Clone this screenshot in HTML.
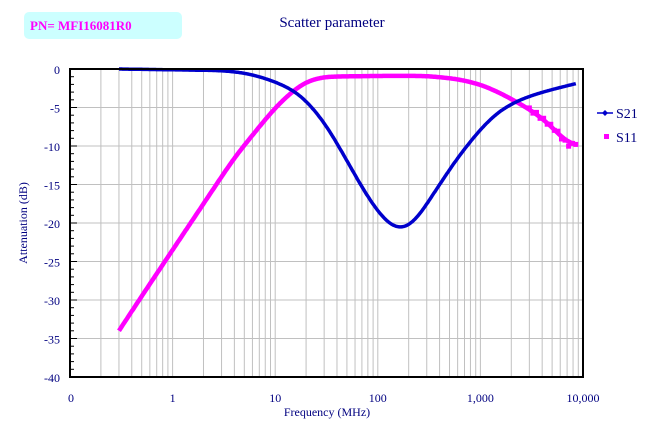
<!DOCTYPE html>
<html><head><meta charset="utf-8"><style>
html,body{margin:0;padding:0;background:#fff;width:666px;height:430px;overflow:hidden}
svg{display:block}
text{font-family:"Liberation Serif",serif}
</style></head><body>
<svg id="s" width="666" height="430" xmlns="http://www.w3.org/2000/svg">
<rect x="24" y="12" width="158" height="27" rx="5" fill="#ccffff"/>
<text x="30" y="30" font-size="13" font-weight="bold" fill="#ff00ff">PN= MFI16081R0</text>
<text x="332" y="27" font-size="15" text-anchor="middle" fill="#000080">Scatter parameter</text>
<g id="grid"></g>
<g id="data"></g>
<rect x="70" y="69" width="513" height="308" fill="none" stroke="#000" stroke-width="2"/>
<g id="ticks"></g>
<text transform="translate(27,223) rotate(-90)" font-size="12" text-anchor="middle" fill="#000080">Attenuation (dB)</text>
<text x="327" y="416" font-size="12" text-anchor="middle" fill="#000080">Frequency (MHz)</text>
<line x1="597" y1="113" x2="613" y2="113" stroke="#0000cc" stroke-width="1.5"/>
<path d="M605 110 L608 113 L605 116 L602 113Z" fill="#0000cc"/>
<text x="616" y="118" font-size="14" fill="#000080">S21</text>
<rect x="604" y="134" width="5" height="5" fill="#ff00ff"/>
<text x="616" y="142" font-size="14" fill="#000080">S11</text>
</svg>
<script>
var NS="http://www.w3.org/2000/svg";
function el(p,t,a,txt){var e=document.createElementNS(NS,t);for(var k in a)e.setAttribute(k,a[k]);if(txt!==undefined)e.textContent=txt;p.appendChild(e);return e;}
var X0=70,X1=583,Y0=69,Y1=377;
function fx(f){return X0+(Math.log10(f)+1)*(X1-X0)/5;}
function fy(d){return Y0+(-d)*(Y1-Y0)/40;}
var g=document.getElementById('grid'),t=document.getElementById('ticks'),d=document.getElementById('data');
for(var e=-1;e<4;e++)for(var m=1;m<10;m++){var x=fx(m*Math.pow(10,e));if(x>X0+1)el(g,'line',{x1:x,y1:Y0,x2:x,y2:Y1,stroke:'#c0c0c0','stroke-width':1});}
for(var v=-5;v>-40;v-=5)el(g,'line',{x1:X0,y1:fy(v),x2:X1,y2:fy(v),stroke:'#c0c0c0','stroke-width':1});
for(var v=0;v>=-40;v--){var y=fy(v);el(t,'line',{x1:X0,y1:y,x2:X0+(v%5==0?7:4),y2:y,stroke:'#000','stroke-width':1});}
for(var v=0;v>=-40;v-=5)el(t,'text',{x:60,y:fy(v)+5,'font-size':12,'text-anchor':'end',fill:'#000080'},String(v));
var xl=['0','1','10','100','1,000','10,000'];
for(var i=0;i<6;i++)el(t,'text',{x:X0+i*(X1-X0)/5+(i==0?1:0),y:402,'font-size':12,'text-anchor':'middle',fill:'#000080'},xl[i]);
function interp(pts,f){var lf=Math.log10(f);for(var i=0;i<pts.length-1;i++){var a=Math.log10(pts[i][0]),b=Math.log10(pts[i+1][0]);if(lf<=b){var u=(lf-a)/(b-a);return pts[i][1]+(pts[i+1][1]-pts[i][1])*u;}}return pts[pts.length-1][1];}
var s21=[[0.3,0],[3,-0.2],[5,-0.5],[8,-1.2],[12,-2.1],[17,-3.2],[25,-5.5],[34,-8],[53,-12.5],[80,-16.7],[120,-19.9],[165,-21],[230,-19.9],[400,-15],[600,-11.5],[1000,-7.8],[1500,-5.5],[2400,-4],[4000,-3],[6000,-2.4],[8500,-1.9]];
var s11=[[0.3,-34],[0.5,-29.5],[1,-23.5],[2,-17.5],[4,-11.5],[7,-7.5],[10,-5],[15,-2.8],[20,-1.6],[30,-1],[100,-0.9],[300,-0.9],[600,-1.3],[1000,-2],[1500,-3],[2500,-4.6],[3500,-5.8],[4500,-7],[5500,-8],[6500,-9.3],[7500,-10],[8500,-9.6]];
function line(pts,col,w){var N=500,v=[],fs=[];for(var i=0;i<=N;i++){var f=0.3*Math.pow(8500/0.3,i/N);fs.push(f);v.push(interp(pts,f));}
 for(var pass=0;pass<3;pass++){var nv=v.slice();for(var i=0;i<=N;i++){var K=Math.min(8,i,N-i),s=0,c=0;for(var k=-K;k<=K;k++){s+=v[i+k];c++;}nv[i]=s/c;}v=nv;}
 var p=[];for(var i=0;i<=N;i++)p.push(fx(fs[i]).toFixed(1)+','+fy(v[i]).toFixed(1));
 el(d,'polyline',{points:p.join(' '),fill:'none',stroke:col,'stroke-width':w,'stroke-linejoin':'round'});}
line(s11,'#ff00ff',4.5);
line(s21,'#0000cc',3.5);
for(var i=0;i<14;i++){var f=3000*Math.pow(8500/3000,i/13);var y=fy(interp(s11,f))+(i%2?1.5:-1.5);el(d,'rect',{x:fx(f)-2.5,y:y-2.5,width:5,height:5,fill:'#ff00ff'});}
</script>
</body></html>
